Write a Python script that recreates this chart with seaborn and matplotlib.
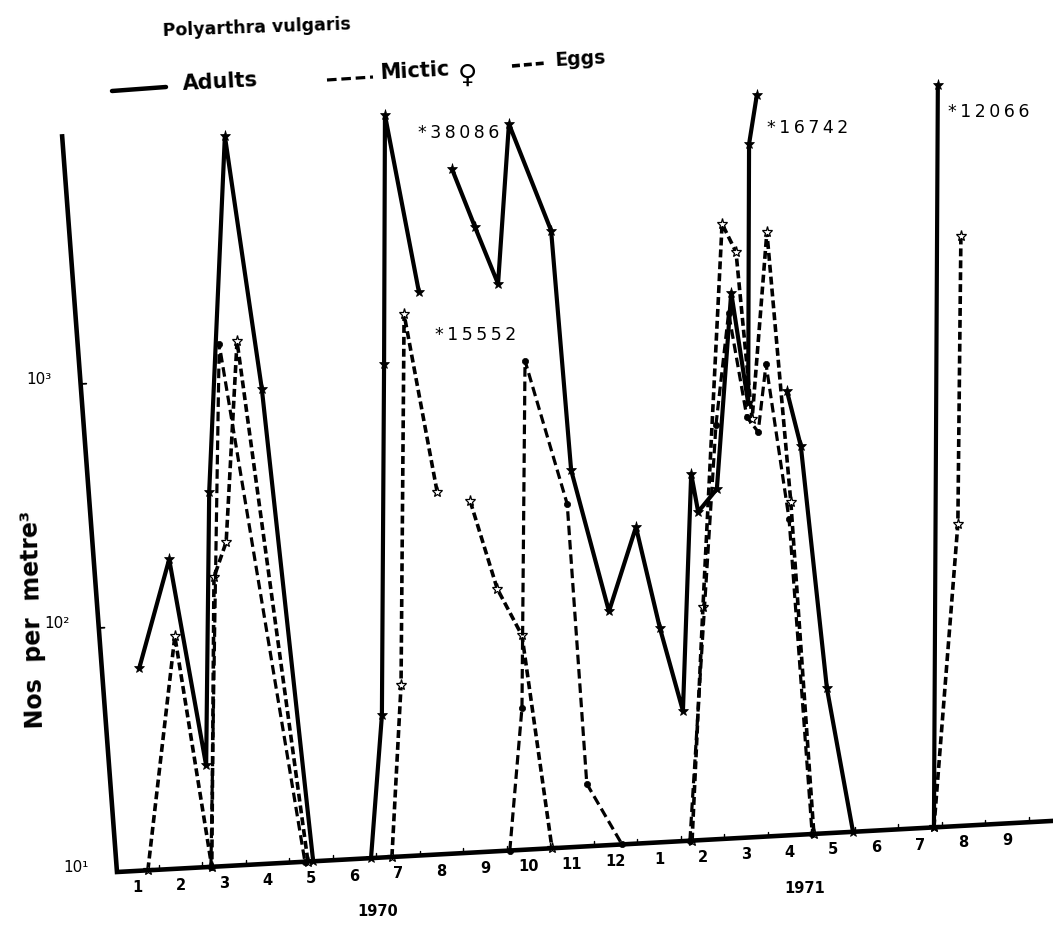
import numpy as np
import pandas as pd
import matplotlib
matplotlib.use("Agg")
import matplotlib.pyplot as plt
from matplotlib.transforms import Affine2D
from matplotlib.lines import Line2D
import seaborn as sns

sns.set_style("white")
plt.rcParams["font.family"] = ["DejaVu Sans"]
plt.rcParams["text.color"] = "black"

# ---------------------------------------------------------------
# Polyarthra vulgaris, numbers per m^3.
# Month index: 1 = Jan 1970 ... 13 = Jan 1971 ... 21 = Sep 1971.
# seg numbers split each record where the curve is interrupted.
# ---------------------------------------------------------------
adult_month = [1.05, 1.74, 2.59, 2.66, 3.02, 3.87, 5.05,
               6.38, 6.63, 6.68, 6.70, 7.48,
               8.24, 8.77, 9.30, 9.55, 10.52, 10.98, 11.85, 12.47, 13.02,
               13.55, 13.74, 13.90, 14.33, 14.66, 15.05, 15.07, 15.25,
               15.94, 16.26, 16.86, 17.46,
               19.32, 19.41]
adult_count = [67, 184, 26, 340, 9550, 870, 10,
               10, 38, 1030, 38086, 2000,
               6240, 3570, 2070, 9250, 3320, 346, 90, 196, 75,
               34, 314, 219, 269, 1690, 593, 6760, 16742,
               652, 386, 39, 10,
               10, 12066]
adult_seg = [1] * 7 + [2] * 5 + [3] * 17 + [4] * 4 + [5] * 2

mictic_month = [2.70, 2.89, 4.86,
                9.57, 9.85, 9.92, 10.89, 11.34, 12.15,
                13.71, 14.31, 14.60, 15.02, 15.28, 15.46, 15.99, 16.52]
mictic_count = [10, 1355, 10,
                10, 38, 990, 252, 18, 10,
                10, 493, 1400, 520, 450, 849, 195, 10]
mictic_seg = [1] * 3 + [2] * 6 + [3] * 8

egg_month = [1.25, 1.87, 2.72, 2.77, 3.05, 3.30, 4.93,
             6.86, 7.07, 7.14, 7.90,
             8.66, 9.28, 9.85, 10.54,
             13.76, 14.01, 14.45, 14.77, 15.14, 15.48, 16.03, 16.56,
             19.32, 19.87, 19.94]
egg_count = [10, 89, 10, 152, 210, 1380, 10,
             10, 50, 1630, 302,
             272, 118, 75, 10,
             10, 89, 3240, 2470, 510, 2930, 229, 10,
             10, 171, 2560]
egg_seg = [1] * 7 + [2] * 4 + [3] * 4 + [4] * 8 + [5] * 3

# off-scale sample that is only stated, not joined to the curve
egg_off_month = [8.30]
egg_off_count = [15552]

month_pos = list(range(1, 22))
month_labels = [str(m) for m in range(1, 13)] + [str(m) for m in range(1, 10)]
year_pos = [6.54, 16.36]
year_labels = ["1970", "1971"]
decades = [1, 2, 3]
decade_labels = ["10\u00b9", "10\u00b2", "10\u00b3"]

# top of the log scale: larger values are drawn there and labelled
scale_top = 10 ** 4.03

frames = []
for name, m, c, s in [("Adults", adult_month, adult_count, adult_seg),
                      ("Mictic", mictic_month, mictic_count, mictic_seg),
                      ("Eggs", egg_month, egg_count, egg_seg)]:
    frames.append(pd.DataFrame({"series": name, "month": m, "count": c, "seg": s}))
data = pd.concat(frames, ignore_index=True)
data["plotted"] = data["count"].clip(upper=scale_top)

# ---------------------------------------------------------------
W, H = 1053, 929
fig = plt.figure(figsize=(W / 100, H / 100), dpi=100, facecolor="white")
ax = fig.add_axes([0, 0, 1, 1])
ax.set_yscale("log")
XLIM = (-2.149, 22.057)
YLIM = (10 ** 0.7714, 10 ** 4.5633)
ax.set_xlim(*XLIM)
ax.set_ylim(*YLIM)

# the baseline of the drawing climbs to the right: shear in display space
tilt = 0.0546
x_ref = 117
shear = Affine2D(np.array([[1.0, 0.0, 0.0],
                           [tilt, 1.0, -tilt * x_ref],
                           [0.0, 0.0, 1.0]]))
T = ax.transData + shear

styles = {
    "Eggs": dict(linewidth=2.6, marker="*", markersize=8, markerfacecolor="white",
                 markeredgecolor="black", markeredgewidth=0.9, dash=(2.2, 1.1)),
    "Mictic": dict(linewidth=2.3, marker="o", markersize=4.5, markerfacecolor="black",
                   markeredgecolor="black", markeredgewidth=0.5, dash=(3.0, 1.5)),
    "Adults": dict(linewidth=3.0, marker="*", markersize=8, markerfacecolor="black",
                   markeredgecolor="black", markeredgewidth=0.5, dash=None),
}

for name in ["Eggs", "Mictic", "Adults"]:
    st = dict(styles[name])
    dash = st.pop("dash")
    before = len(ax.lines)
    sns.lineplot(data=data[data["series"] == name], x="month", y="plotted",
                 units="seg", estimator=None, sort=True, ax=ax, color="black",
                 legend=False, **st)
    for ln in ax.lines[before:]:
        ln.set_transform(T)
        ln.set_clip_on(False)
        if dash is not None:
            ln.set_dashes(dash)
            ln.set_dash_capstyle("butt")
        else:
            ln.set_solid_capstyle("round")

# axes drawn as lines in the sheared frame
x0 = 0.54
y_axis_top = (-0.724, 10 ** 4.024)
ax.plot([y_axis_top[0], x0, 22.4], [y_axis_top[1], 10, 10], transform=T,
        color="black", lw=3.3, solid_joinstyle="miter", solid_capstyle="butt",
        clip_on=False)
for b in np.arange(1.5, 21.6, 1.0):
    ax.plot([b, b], [10, 10 ** 1.02], transform=T, color="black", lw=1.0, clip_on=False)

for d, lab in zip(decades, decade_labels):
    t = (d - 1) / 3.024
    xm = x0 + (y_axis_top[0] - x0) * t
    if d > 1:
        ax.plot([xm, xm + 0.13], [10 ** d, 10 ** d], transform=T, color="black", lw=1.3)
    ax.text(xm - 0.95, 10 ** (d + 0.03), lab, transform=T, ha="center", va="center",
            fontsize=11, color="black")

below = 10 ** (1 - 16 / 245)
for m, lab in zip(month_pos, month_labels):
    ax.text(m, below, lab, transform=T, ha="center", va="center",
            fontsize=10.5, fontweight="bold", color="black")
for m, lab in zip(year_pos, year_labels):
    ax.text(m, 10 ** (1 - 53 / 245), lab, transform=T, ha="center", va="center",
            fontsize=10.5, fontweight="bold", color="black")


def value_label(v):
    return "\u2009".join("*" + str(v))


# labels for counts beyond the scale (offsets in pixels: right, down)
adult_off = data[(data["series"] == "Adults") & (data["count"] > scale_top)]
adult_note_offsets = [(33, 17), (10, 32), (10, 26)]
for (_, row), (dx, dy) in zip(adult_off.iterrows(), adult_note_offsets):
    ax.annotate(value_label(int(row["count"])), xy=(row["month"], row["plotted"]),
                xycoords=T, xytext=(dx * 0.72, -dy * 0.72), textcoords="offset points",
                ha="left", va="center", fontsize=12.5, color="black")
for m, c in zip(egg_off_month, egg_off_count):
    ax.annotate(value_label(c), xy=(m, scale_top), xycoords=T,
                xytext=(-20 * 0.72, -223 * 0.72), textcoords="offset points",
                ha="left", va="center", fontsize=12.5, color="black")

ax.set_xlim(*XLIM)
ax.set_ylim(*YLIM)
ax.axis("off")


# ---- title, legend and y label (figure pixel positions) ----
def fx(px):
    return px / W


def fy(py):
    return 1 - py / H


fig.text(fx(163), fy(31), "Polyarthra vulgaris", ha="left", va="center",
         fontsize=12.5, fontweight="bold", rotation=2, rotation_mode="anchor",
         color="black")

fig.add_artist(Line2D([fx(112), fx(166)], [fy(92), fy(88)], color="black", lw=3.2))
fig.text(fx(183), fy(84), "Adults", ha="left", va="center", fontsize=15,
         fontweight="bold", rotation=3, rotation_mode="anchor", color="black")

fig.add_artist(Line2D([fx(327), fx(373)], [fy(81), fy(78)], color="black", lw=2.3,
                      dashes=styles["Mictic"]["dash"], dash_capstyle="butt"))
fig.text(fx(380), fy(73), "Mictic", ha="left", va="center", fontsize=15,
         fontweight="bold", rotation=3, rotation_mode="anchor", color="black")
fig.text(fx(458), fy(76), "\u2640", ha="left", va="center", fontsize=19,
         fontweight="bold", color="black")

fig.add_artist(Line2D([fx(512), fx(546)], [fy(67), fy(64)], color="black", lw=2.6,
                      dashes=styles["Eggs"]["dash"], dash_capstyle="butt"))
fig.text(fx(555), fy(61), "Eggs", ha="left", va="center", fontsize=13.5,
         fontweight="bold", rotation=3, rotation_mode="anchor", color="black")

fig.text(fx(33), fy(620), "Nos  per  metre\u00b3", ha="center", va="center",
         fontsize=17, fontweight="bold", rotation=91.5, rotation_mode="anchor",
         color="black")

fig.savefig("out.png", dpi=100, facecolor="white")
